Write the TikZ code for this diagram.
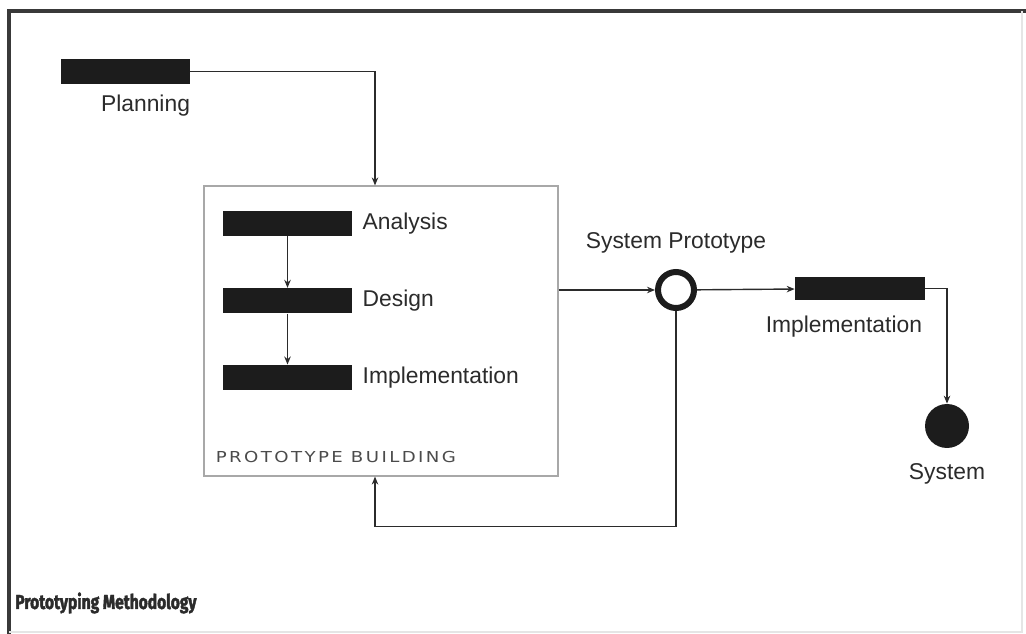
\documentclass[tikz,border=0pt]{standalone}
\usepackage{fontspec}
\setmainfont{Liberation Sans}
\newfontfamily\capsfont[LetterSpace=16,FakeStretch=1.2]{DejaVu Sans}
\newfontfamily\titlefont[FakeStretch=0.77,BoldFeatures={FakeBold=2}]{Fira Sans}
\usetikzlibrary{arrows.meta,positioning}
\definecolor{ink}{HTML}{2B2B2B}
\definecolor{barfill}{HTML}{1C1C1C}
\definecolor{rim}{HTML}{A8A8A8}

\begin{document}
\begin{tikzpicture}[
    x=0.02cm,y=-0.02cm,
    node distance=0.2cm,
    bar/.style={fill=barfill,minimum width=2.58cm,minimum height=0.5cm,inner sep=0pt},
    lbl/.style={inner sep=0pt,text=ink,font=\fontsize{13}{15}\selectfont},
    stage/.style={draw=rim,line width=0.7pt,minimum width=7.08cm,minimum height=5.8cm,inner sep=0pt},
    ring/.style={circle,draw=barfill,line width=0.12cm,minimum size=0.72cm,inner sep=0pt},
    dot/.style={circle,fill=barfill,minimum size=0.88cm,inner sep=0pt},
    arrow/.style={-{Stealth[length=1.6mm,width=1.3mm]},draw=ink,line width=0.8pt}
  ]
    \useasboundingbox (0,0) rectangle (1026,634);
    % frame
    \draw[line width=2.2pt,gray!45!black] (9,634) -- (9,11) -- (1026,11);
    \draw[line width=0.8pt,gray!20] (1022,11) -- (1022,632) -- (9,632);
    % planning
    \node[bar] (plan) at (125.5,71.5) {};
    \node[lbl,anchor=north east] (planlbl) at ([yshift=-0.2cm]plan.south east) {Planning};
    % prototype building box
    \node[stage] (build) at (381,331) {};
    \node[bar] (ana) at (287.5,223.5) {};
    \node[bar,below=1.03cm of ana] (des) {};
    \node[bar,below=1.02cm of des] (imp) {};
    \node[lbl,right=of ana] (analbl) {Analysis};
    \node[lbl,right=of des] (deslbl) {Design};
    \node[lbl,right=of imp] (implbl) {Implementation};
    \node[inner sep=0pt,anchor=base west,text=ink!85,font=\capsfont\fontsize{8.6}{10}\selectfont]
      (buildlbl) at ([xshift=0.24cm,yshift=0.28cm]build.south west) {PROTOTYPE BUILDING};
    % prototype and system
    \node[ring] (proto) at (676,290) {};
    \node[lbl,above=0.3cm of proto] (protolbl) {System Prototype};
    \node[bar,minimum width=2.6cm,minimum height=0.48cm] (rollout) at (860,288.5) {};
    \node[lbl,anchor=north east] (rolloutlbl) at ([xshift=-0.06cm,yshift=-0.3cm]rollout.south east) {Implementation};
    \node[dot] (sys) at (947,426) {};
    \node[lbl,below=0.3cm of sys] (syslbl) {System};
    % title
    \node[inner sep=0pt,anchor=west,text=ink,font=\titlefont\bfseries\fontsize{11.5}{14}\selectfont]
      (title) at (15,603) {Prototyping Methodology};
    % connectors
    \draw[arrow] (plan.east) -| ([xshift=-0.12cm]build.north);
    \draw[arrow] (ana) -- (des);
    \draw[arrow] (des) -- (imp);
    \draw[arrow] (build.east |- proto) -- (proto);
    \draw[arrow] (proto) -- (rollout);
    \draw[arrow] (rollout.east) -| (sys.north);
    \draw[arrow] (proto.south) |- ([xshift=-0.12cm,yshift=-1cm]build.south) -- ([xshift=-0.12cm]build.south);
  \end{tikzpicture}
\end{document}
